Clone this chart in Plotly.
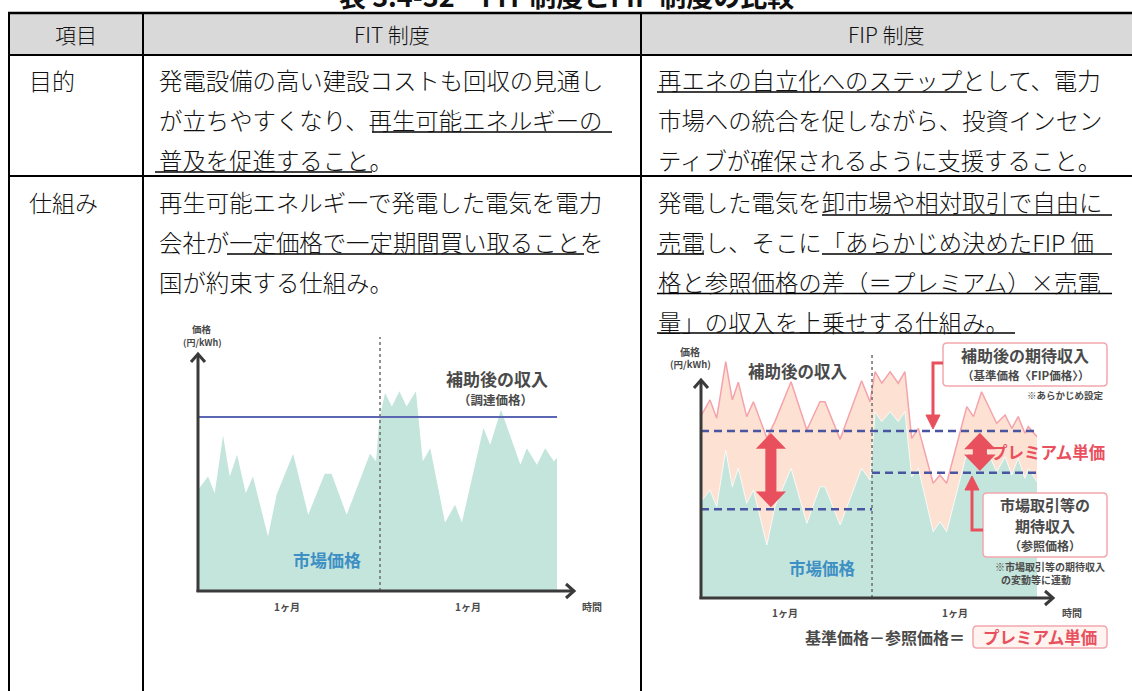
import plotly.graph_objects as go

W, H = 1132, 691
FONT = "Noto Sans CJK JP"


def px(x):
    return x / W


def py(y):
    return 1 - y / H


# ---------------- FIT chart: market price under a fixed purchase price ----------------
fit_t = [0, 2.8, 4.65, 6.98, 8.84, 10.9, 13.3, 15.3, 19.5, 21.9, 26.5, 30.7, 35.3, 37.2,
         41.4, 47.9, 49.6, 50.5, 52.1, 54.0, 56.1, 58.1, 60.7, 62.6, 64.7, 68.8, 71.6,
         73.5, 79.5, 81.4, 84.4, 89.8, 91.6, 94.4, 96.7, 99.1, 100]
fit_market = [5.82, 6.58, 5.62, 8.93, 6.58, 7.83, 5.62, 6.58, 3.13, 5.53, 7.89, 4.38, 6.74,
              6.74, 4.38, 7.89, 7.45, 9.85, 11.38, 10.61, 11.48, 10.61, 11.48, 7.45, 8.21,
              3.93, 4.95, 3.93, 9.37, 8.41, 10.42, 7.26, 8.21, 7.26, 8.21, 7.45, 7.64]
fit_price = 10
fit_month_split = 50.7

# ---------------- FIP chart: market price + premium ----------------
fip_t = [0, 2.68, 4.67, 7.35, 9.32, 11.1, 13.6, 15.6, 19.6, 22.0, 26.8, 31.5, 35.4, 36.9,
         41.4, 47.8, 50.3, 51.8, 53.8, 56.3, 58.7, 60.7, 62.7, 64.7, 69.1, 71.1, 73.1,
         79.1, 81.1, 83.5, 88.0, 90.5, 92.5, 94.4, 96.4, 97.4, 100]
fip_market = [5.77, 6.47, 5.47, 8.86, 6.66, 7.77, 5.67, 6.47, 3.17, 5.47, 7.77, 4.47, 6.66,
              6.66, 4.37, 7.77, 7.07, 11.16, 10.56, 11.16, 10.56, 11.16, 7.26, 7.77, 3.97,
              4.57, 3.97, 8.66, 8.07, 9.56, 7.56, 8.46, 7.37, 8.37, 7.17, 7.77, 6.96]
fip_income = [10.9, 11.86, 10.76, 14.15, 11.86, 12.92, 10.86, 11.75, 9.58, 10.56, 12.95,
              10.06, 11.75, 11.75, 9.50, 13.01, 11.75, 13.55, 12.86, 13.55, 12.86, 13.55,
              9.56, 10.16, 6.87, 7.37, 6.87, 11.46, 10.86, 12.35, 10.46, 10.96, 10.16, 10.86,
              9.86, 10.26, 9.66]
fip_base = 10
fip_ref = [5.31, 7.50]
fip_month_split = 50.9
premium_arrow_t = [20.8, 83.0]

# ---------------- table text ----------------
title_text = "表 3.4-32　FIT 制度とFIP 制度の比較"
header = ["項目", "FIT 制度", "FIP 制度"]
row_labels = ["目的", "仕組み"]
purpose_fit = ["発電設備の高い建設コストも回収の見通し",
               "が立ちやすくなり、再生可能エネルギーの",
               "普及を促進すること。"]
purpose_fip = ["再エネの自立化へのステップとして、電力",
               "市場への統合を促しながら、投資インセン",
               "ティブが確保されるように支援すること。"]
scheme_fit = ["再生可能エネルギーで発電した電気を電力",
              "会社が一定価格で一定期間買い取ることを",
              "国が約束する仕組み。"]
scheme_fip = ["発電した電気を卸市場や相対取引で自由に",
              "売電し、そこに「あらかじめ決めたFIP 価",
              "格と参照価格の差（＝プレミアム）×売電",
              "量」の収入を上乗せする仕組み。"]

TEAL = "#c4e5dc"
PEACH = "#fde1d2"
PINKLINE = "#f4a3ac"
RED = "#e9505e"
NAVY = "#4a55a2"
DARK = "#3a3a3a"
LABEL = "#4a4a4a"
BLUE_TXT = "#3d8fc4"

fig = go.Figure()

# FIT chart traces
fig.add_trace(go.Scatter(x=fit_t, y=fit_market, mode="lines", fill="tozeroy",
                         fillcolor=TEAL, line=dict(width=0, color=TEAL),
                         xaxis="x", yaxis="y", hoverinfo="skip"))
fig.add_trace(go.Scatter(x=[0, 100], y=[fit_price, fit_price], mode="lines",
                         line=dict(color="#5b67b3", width=2),
                         xaxis="x", yaxis="y", hoverinfo="skip"))

# FIP chart traces
fig.add_trace(go.Scatter(x=fip_t, y=fip_income, mode="lines", fill="tozeroy",
                         fillcolor=PEACH, line=dict(width=1.5, color=PINKLINE),
                         xaxis="x2", yaxis="y2", hoverinfo="skip"))
fig.add_trace(go.Scatter(x=fip_t, y=fip_market, mode="lines", fill="tozeroy",
                         fillcolor=TEAL, line=dict(width=1, color="rgba(255,255,255,0.8)"),
                         xaxis="x2", yaxis="y2", hoverinfo="skip"))
dash = "8px,5px"
fig.add_trace(go.Scatter(x=[0, 100], y=[fip_base, fip_base], mode="lines",
                         line=dict(color=NAVY, width=2.5, dash=dash),
                         xaxis="x2", yaxis="y2", hoverinfo="skip"))
fig.add_trace(go.Scatter(x=[0, fip_month_split], y=[fip_ref[0], fip_ref[0]], mode="lines",
                         line=dict(color=NAVY, width=2.5, dash=dash),
                         xaxis="x2", yaxis="y2", hoverinfo="skip"))
fig.add_trace(go.Scatter(x=[fip_month_split, 100], y=[fip_ref[1], fip_ref[1]], mode="lines",
                         line=dict(color=NAVY, width=2.5, dash=dash),
                         xaxis="x2", yaxis="y2", hoverinfo="skip"))

shapes = []


def pline(x0, y0, x1, y1, w=2, color="black", dash=None):
    ln = dict(color=color, width=w)
    if dash:
        ln["dash"] = dash
    shapes.append(dict(type="line", xref="paper", yref="paper",
                       x0=px(x0), y0=py(y0), x1=px(x1), y1=py(y1), line=ln))


def ppath(points, color, fill=None, w=3, closed=False):
    d = "M " + " L ".join(f"{px(a):.5f},{py(b):.5f}" for a, b in points)
    if closed:
        d += " Z"
    shapes.append(dict(type="path", xref="paper", yref="paper", path=d,
                       line=dict(color=color, width=w),
                       fillcolor=fill if fill else "rgba(0,0,0,0)"))


def rounded_box(x0, y0, x1, y1, r, edge, fill, w=1.5):
    d = (f"M {px(x0 + r)},{py(y0)} L {px(x1 - r)},{py(y0)} "
         f"Q {px(x1)},{py(y0)} {px(x1)},{py(y0 + r)} L {px(x1)},{py(y1 - r)} "
         f"Q {px(x1)},{py(y1)} {px(x1 - r)},{py(y1)} L {px(x0 + r)},{py(y1)} "
         f"Q {px(x0)},{py(y1)} {px(x0)},{py(y1 - r)} L {px(x0)},{py(y0 + r)} "
         f"Q {px(x0)},{py(y0)} {px(x0 + r)},{py(y0)} Z")
    shapes.append(dict(type="path", xref="paper", yref="paper", path=d,
                       line=dict(color=edge, width=w), fillcolor=fill))


# table header background
shapes.append(dict(type="rect", xref="paper", yref="paper", layer="below",
                   x0=px(9), x1=px(1132), y0=py(13), y1=py(55),
                   fillcolor="#d9d9d9", line=dict(width=0)))
# table rules
pline(8, 13, 1132, 13, 2.5)
pline(8, 55, 1132, 55, 2)
pline(8, 176, 1132, 176, 1.8)
for xv in (9, 143, 641):
    pline(xv, 12, xv, 691, 2)

# underlined phrases
for x0, x1, yv in [(657, 967, 92), (372, 612, 132), (155, 372, 172),
                   (227, 584, 254), (822, 1112, 215), (657, 704, 254),
                   (822, 1112, 254), (657, 1112, 293.5), (657, 1015, 333)]:
    pline(x0, yv, x1, yv, 1.6)

# FIT chart: month divider and axes
shapes.append(dict(type="line", xref="x", yref="y", x0=fit_month_split, x1=fit_month_split,
                   y0=0, y1=14.6, line=dict(color="#6d6d6d", width=1.5, dash="dot")))
pline(198, 592, 198, 354, 3, DARK)
ppath([(191, 362), (198, 354), (205, 362)], DARK, w=3)
pline(196.5, 591, 573, 591, 3, DARK)
ppath([(566, 584), (574, 591), (566, 598)], DARK, w=3)

# FIP chart: month divider and axes
shapes.append(dict(type="line", xref="x2", yref="y2", x0=fip_month_split, x1=fip_month_split,
                   y0=0, y1=14.55, line=dict(color="#6d6d6d", width=1.5, dash="dot")))
pline(701, 599, 701, 380, 3, DARK)
ppath([(694, 388), (701, 380), (708, 388)], DARK, w=3)
pline(699.5, 598, 1052, 598, 3, DARK)
ppath([(1045, 591), (1053, 598), (1045, 605)], DARK, w=3)


# premium double arrows (between reference price and base price)
def double_arrow(xc, y0, y1, sw, hw, hl):
    d = (f"M {xc - sw},{y0 + hl} L {xc - hw},{y0 + hl} L {xc},{y0} L {xc + hw},{y0 + hl} "
         f"L {xc + sw},{y0 + hl} L {xc + sw},{y1 - hl} L {xc + hw},{y1 - hl} L {xc},{y1} "
         f"L {xc - hw},{y1 - hl} L {xc - sw},{y1 - hl} Z")
    shapes.append(dict(type="path", xref="x2", yref="y2", path=d,
                       line=dict(width=0, color=RED), fillcolor=RED))


double_arrow(premium_arrow_t[0], fip_ref[0] + 0.12, fip_base - 0.12, 1.65, 4.5, 0.95)
double_arrow(premium_arrow_t[1], fip_ref[1] + 0.1, fip_base - 0.1, 2.1, 4.7, 1.0)

# callout boxes
rounded_box(943, 343, 1107, 386, 4, "#f2a7ae", "white")
rounded_box(983, 493, 1107, 557, 4, "#f2a7ae", "white")
rounded_box(973, 626, 1107, 648, 4, "#f2a7ae", "#fff4ef")

# callout arrows
ppath([(943, 363), (933, 363), (933, 417)], RED, w=3)
ppath([(926, 415), (940, 415), (933, 429)], RED, fill=RED, w=1, closed=True)
ppath([(983, 530), (972, 530), (972, 488)], RED, w=3)
ppath([(965, 490), (979, 490), (972, 476)], RED, fill=RED, w=1, closed=True)

annotations = []


def text(x, y, s, size, color="black", anchor="left", bold=False, family=FONT, weight=None):
    if bold:
        s = f"<b>{s}</b>"
    f = dict(family=family, size=size, color=color)
    if weight:
        f["weight"] = weight
    annotations.append(dict(xref="paper", yref="paper", x=px(x), y=py(y), text=s,
                            showarrow=False, xanchor=anchor, yanchor="middle",
                            font=f))


# title (runs off the top edge)
text(566, -5, title_text, 27, "#111", "center", bold=True)

# header
text(76, 34, header[0], 21, "#111", "center", weight=300)
text(392, 34, header[1], 21, "#111", "center", weight=300)
text(886, 34, header[2], 21, "#111", "center", weight=300)

# row labels
text(27, 80, row_labels[0], 23, "#111", weight=300)
text(27, 202, row_labels[1], 23, "#111", weight=300)

BODY = 23.4
for i, s in enumerate(purpose_fit):
    text(157, 80 + 40 * i, s, BODY, "#111", weight=300)
for i, s in enumerate(purpose_fip):
    text(656, 80 + 40 * i, s, BODY, "#111", weight=300)
for i, s in enumerate(scheme_fit):
    text(157, 202 + 40 * i, s, BODY, "#111", weight=300)
for i, s in enumerate(scheme_fip):
    text(656, 202 + 40 * i, s, BODY, "#111", weight=300)

# FIT chart labels
text(202, 329, "価格", 9.5, LABEL, "center", bold=True)
text(202, 342, "(円/kWh)", 9, LABEL, "center", bold=True)
text(497, 378, "補助後の収入", 17, LABEL, "center", bold=True)
text(495, 399, "（調達価格）", 12.5, LABEL, "center", bold=True)
text(327, 559, "市場価格", 17, BLUE_TXT, "center", bold=True)
text(287, 606, "1ヶ月", 10, LABEL, "center", bold=True)
text(468, 606, "1ヶ月", 10, LABEL, "center", bold=True)
text(592, 606, "時間", 10, LABEL, "center", bold=True)

# FIP chart labels
text(690, 351, "価格", 10, LABEL, "center", bold=True)
text(690, 364, "(円/kWh)", 9.5, LABEL, "center", bold=True)
text(798, 371, "補助後の収入", 16.5, LABEL, "center", bold=True)
text(1025, 355, "補助後の期待収入", 16, LABEL, "center", bold=True)
text(1025, 375, "（基準価格〈FIP価格〉）", 11.5, LABEL, "center", bold=True)
text(1106, 395, "※あらかじめ設定", 9.5, LABEL, "right", bold=True)
text(1107, 452, "プレミアム単価", 16.5, RED, "right", bold=True)
text(1045, 504.5, "市場取引等の", 15, LABEL, "center", bold=True)
text(1045, 525.5, "期待収入", 15, LABEL, "center", bold=True)
text(1045, 545.5, "（参照価格）", 12, LABEL, "center", bold=True)
text(1107, 566, "※市場取引等の期待収入", 10, LABEL, "right", bold=True)
text(1036, 579, "の変動等に連動", 10, LABEL, "center", bold=True)
text(822, 568, "市場価格", 16.5, BLUE_TXT, "center", bold=True)
text(785, 612, "1ヶ月", 10, LABEL, "center", bold=True)
text(955, 612, "1ヶ月", 10, LABEL, "center", bold=True)
text(1072, 612, "時間", 10, LABEL, "center", bold=True)
text(967, 637, "基準価格－参照価格＝", 16, LABEL, "right", bold=True)
text(1040, 637, "プレミアム単価", 16.5, RED, "center", bold=True)

hidden = dict(visible=False, showgrid=False, zeroline=False, fixedrange=True)
fig.update_layout(
    width=W, height=H,
    margin=dict(l=0, r=0, t=0, b=0),
    paper_bgcolor="white", plot_bgcolor="rgba(0,0,0,0)",
    showlegend=False,
    xaxis=dict(domain=[198 / W, 557 / W], range=[0, 100], **hidden),
    yaxis=dict(domain=[1 - 591 / H, 1 - 330 / H], range=[0, 15], **hidden),
    xaxis2=dict(domain=[701 / W, 1037 / W], range=[0, 100], anchor="y2", **hidden),
    yaxis2=dict(domain=[1 - 598 / H, 1 - 347.5 / H], range=[0, 15], anchor="x2", **hidden),
    shapes=shapes,
    annotations=annotations,
)

fig.write_html("out.html", config={"displayModeBar": False})
